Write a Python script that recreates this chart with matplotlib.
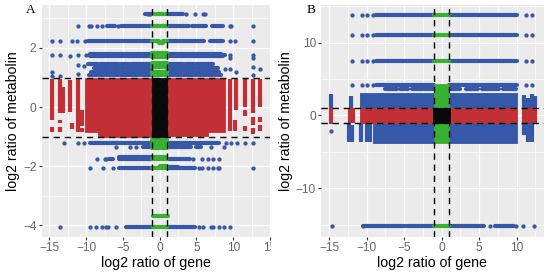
import matplotlib
matplotlib.use("Agg")
import matplotlib.pyplot as plt
from matplotlib.transforms import Bbox

plt.rcParams['font.family'] = ['Liberation Sans', 'DejaVu Sans']

BLUE = '#3558A8'
RED = '#C22F36'
GREEN = '#37B034'
BLACK = '#0A0A0A'

# panel A: (y, x start, x end) for the dense runs of dots
a_blue_runs = [
    (3.15, -2.0, -1), (3.15, 1, 3.1),
    (2.75, -7.2, -6.1), (2.75, -5.2, -1), (2.75, 1, 4), (2.75, 4.4, 6.3), (2.75, 7.1, 8.6),
    (2.22, -9.8, -1), (2.22, 1, 6), (2.22, 6.8, 8.6),
    (1.76, -9.5, -1), (1.8, -9.5, -1), (1.72, -9.5, -1), (1.76, 1, 8.9), (1.72, 1, 8.6), (1.8, 1, 8.4),
    (1.45, -9.7, -8.4), (1.45, -8.1, -5.6), (1.45, -5.3, -4.2), (1.45, -3.9, -1), (1.45, 1, 3.2),
    (1.45, 3.5, 4.6), (1.45, 5.0, 7.2),
    (1.32, -9.0, -6.6), (1.32, -6.3, -4.9), (1.32, -4.6, -1), (1.32, 1, 4.8), (1.32, 5.1, 7.9),
    (1.2, -9.3, -7.0), (1.2, -6.8, -1), (1.2, 1, 6.0), (1.2, 6.3, 8.1),
    (1.08, -9.6, -1), (1.08, 1, 8.3),
    (-1.23, -9.5, -1), (-1.23, 1, 8.1), (-1.36, 1, 4.3), (-1.36, 5, 5.6), (-1.36, -2.3, -1),
    (-1.7, -5.5, -1), (-1.76, -6.9, -6.3), (-1.76, -5.5, -1), (-1.76, 1, 4.1),
    (-2.07, -5.6, -1), (-2.04, 1, 2.5), (-2.07, 1, 4.8),
    (-4.04, -4.6, -1), (-4.04, 1, 4.8),
]
a_blue_x = [-1.36, -1.6, 3.6, 4.8, 5.9, 6.2,
            -11.1, -9.6, -9.3, -8.5, -7.8, -5.7, 9.5, 9.7, 12.75,
            -14.7, -13.6, -11.9, -11.2, -10.1, 9.6, 10.3, 12.75,
            -14.7, -13.6, -12.2, -11.1, -10, 9.6, 9.6, 12.75, 12.75,
            -11.1, -10.3, -14.7, -11.1, 8.9, 9.6, 10.4, 12.75, 13.7, 12.75, -14.7, -13.6,
            -13, -11.1, -10.3, 9, 9.7, 10.5, 11.6, 12.75, -5.9, -4.1, -3.2, 7, 8.8,
            -8.5, -7.5, -7.3, 4.5, 5.8, 6.6, 7.2, 8,
            -9.5, -7.7, -6.4, 5.3, 5.8, 6.6, 7.2, 7.9, 8.1, 12.75,
            -13.57, -9.5, -8.6, -7.9, -7.3, -7.1, -6, 5.4, 5.9, 7, 7.3, 8.1, 8.8, 9.6]
a_blue_y = [3.15, 3.15, 3.15, 3.15, 3.15, 3.15,
            2.75, 2.75, 2.75, 2.75, 2.75, 2.75, 2.75, 2.75, 2.75,
            2.22, 2.22, 2.22, 2.22, 2.22, 2.22, 2.22, 2.22,
            1.76, 1.76, 1.72, 1.76, 1.76, 1.76, 1.65, 1.76, 1.65,
            1.42, 1.4, 1.19, 1.12, 1.3, 1.3, 1.2, 1.35, 1.28, 1.1, 1.05, 1.05,
            -1.23, -1.23, -1.2, -1.2, -1.23, -1.2, -1.2, -1.23, -1.36, -1.36, -1.36, -1.36, -1.36,
            -1.76, -1.76, -1.76, -1.76, -1.76, -1.76, -1.76, -1.76,
            -2.07, -2.07, -2.07, -2.07, -2.07, -2.07, -2.07, -2.07, -2.07, -2.07,
            -4.04, -4.04, -4.04, -4.04, -4.04, -4.04, -4.04, -4.04, -4.04, -4.04, -4.04, -4.04, -4.04, -4.04]
a_green_runs = [(3.15, -0.7, 0.7), (2.75, -1, 1), (2.75, -0.9, 0.9), (2.22, -1, -0.1), (2.18, -0.1, 0.5),
                (2.22, 0.5, 1), (1.76, -1, 1), (1.68, -1, 1), (1.84, -1, 1),
                (1.5, -1, 1), (1.35, -1, 1), (1.2, -1, 1), (1.08, -1, 1),
                (-1.1, -1, 1), (-1.25, -1, 1), (-1.38, -1, 1),
                (-1.76, -1, 1), (-1.68, -0.8, 0.9), (-2.07, -1, 1), (-2.0, 0, 1),
                (-3.68, -0.9, 1.1), (-4.04, -0.9, 1)]
# (x, y start, y end) for the stray red columns either side of the block
a_red_cols = [(-14.7, -0.44, 0.95), (-14.7, -0.83, -0.67), (-13.6, -0.2, 0.95), (-13.6, -0.55, -0.42),
              (-13.6, -0.83, -0.67), (-13.1, -0.2, 0.69), (-12.2, -0.15, 0.9), (-11.9, -0.75, -0.55),
              (-11.1, -0.85, 0.95), (-10.6, -0.65, -0.1), (-10.6, -0.85, -0.72),
              (9.5, -0.8, 0.95), (10.4, -0.1, 0.95), (10.3, -0.8, -0.45), (11.6, 0, 0.95), (11.6, -0.3, -0.1),
              (11.6, -0.8, -0.65), (12.75, -0.2, 0.95), (12.75, -0.6, -0.35), (12.75, -0.9, -0.7),
              (13.7, 0, 0.95), (13.7, -0.5, -0.35), (13.7, -0.8, -0.6)]
a_red_blocks = [(-10.1, -1, -0.85, 1), (-8.4, -1, -1, -0.85),
                (1, 8.9, -0.85, 1), (1, 6.6, -0.97, -0.85)]
a_black_blocks = [(-1, 1, -1, 1)]

# panel B
b_blue_runs = [(13.8, -8.7, -1), (13.8, 1, 10), (11.0, -8.7, -1), (11.0, 1, 10),
               (7.4, -8.7, -1), (7.4, 1, 10), (4.1, -8.7, -1), (4.1, 1, 10),
               (3.55, -7.6, -6.0), (3.55, -5.5, -4.5), (3.55, -3.9, -1), (3.55, 1, 2.5), (3.55, 3.3, 4.8),
               (3.55, 5.4, 7.6), (3.55, 8.2, 9.9), (-15.2, -10.5, -4.9), (-15.2, -4.6, -1),
               (-15.2, 1, 5.6), (-15.2, 7.1, 9.6)]
b_blue_x = [-11.9, -10.6, -9.9, -9.1, 11.2, 12.05] * 4 + [-14.6, -10.5, 6.4, 9.9, 10.9, 12.3]
b_blue_y = [13.8] * 6 + [11.0] * 6 + [7.4] * 6 + [4.1] * 6 + [-15.2] * 6
b_blue_cols = [(-14.7, 1, 3), (-14.7, -1.2, -1), (-12.1, 1, 2.7), (-12.3, -3.7, -1), (-11.9, -3.7, -1.3),
               (-10.7, -3.7, -1), (-10, -3.7, -1), (-9.5, -3.7, -1),
               (11.0, 1, 2.8), (11.5, 1, 2.4), (11.5, -3.7, -1), (11.0, -2.7, -1), (12.1, 1, 3), (12.4, 1, 2.6),
               (12.1, -3.7, -1)]
b_blue_points_x = [-14.7]
b_blue_points_y = [-2.2]
b_blue_blocks = [(-10.9, -1, 1, 3.1), (-9.2, -1, -3.8, -1), (1, 10, 1, 3.1), (1, 10, -3.8, -1)]
b_green_runs = [(13.8, -1, 1), (11.0, -1, 1), (7.4, -1, 1), (-15.2, -1, 1)]
b_green_blocks = [(-1, 1, 1, 4.3), (-1, 1, -3.8, -1)]
b_red_cols = [(-14.7, -1, 1), (-12.2, -1, 1), (-11.8, -1, 1), (11.0, -1, 1), (11.5, -1, 1),
              (12.1, -1, 1), (12.4, -1, 1)]
b_red_blocks = [(-10.9, -1, -1, 1), (1, 10, -1, 1)]
b_black_blocks = [(-1.1, 1.1, -1, 1)]

a_xticks = [-15, -10, -5, 0, 5, 10, 15]
a_yticks = [-4, -2, 0, 2]
a_xminor = [-12.5, -7.5, -2.5, 2.5, 7.5, 12.5]
a_yminor = [-3, -1, 1, 3]
b_xticks = [-15, -10, -5, 0, 5, 10]
b_yticks = [-10, 0, 10]
b_xminor = [-12.5, -7.5, -2.5, 2.5, 7.5, 12.5]
b_yminor = [-15, -5, 5, 15]

DOT = 3.0
DOT_S = 9.5


def draw_runs(ax, runs, color):
    for y, x0, x1 in runs:
        ax.plot([x0, x1], [y, y], color=color, lw=DOT, solid_capstyle='round', zorder=3)


def draw_cols(ax, cols, color):
    for x, y0, y1 in cols:
        ax.plot([x, x], [y0, y1], color=color, lw=DOT, solid_capstyle='butt', zorder=3)


def draw_blocks(ax, blocks, color, z=3):
    for x0, x1, y0, y1 in blocks:
        ax.fill_between([x0, x1], y0, y1, color=color, lw=0.6, zorder=z)


def style_axes(ax, xlim, ylim, xticks, yticks, xminor, yminor):
    ax.set_facecolor('#EBEBEB')
    ax.set_xlim(*xlim)
    ax.set_ylim(*ylim)
    ax.set_xticks(xticks)
    ax.set_yticks(yticks)
    ax.set_xticks(xminor, minor=True)
    ax.set_yticks(yminor, minor=True)
    ax.grid(True, which='major', color='white', lw=0.9, zorder=1)
    ax.grid(True, which='minor', color='white', lw=0.5, zorder=1)
    ax.set_axisbelow(True)
    ax.tick_params(which='minor', length=0)
    ax.tick_params(which='major', length=2.2, width=0.8, color='#333333',
                   labelcolor='#666666', labelsize=8.6, pad=1.5)
    for s in ax.spines.values():
        s.set_visible(False)
    ax.set_xlabel('log2 ratio of gene', fontsize=10.2, labelpad=1.5)
    ax.set_ylabel('log2 ratio of metabolin', fontsize=10.2, labelpad=2)
    for v in (-1, 1):
        ax.axvline(v, color='black', lw=1.0, dashes=(4.5, 3.5), zorder=5)
        ax.axhline(v, color='black', lw=1.0, dashes=(4.5, 3.5), zorder=5)


fig = plt.figure(figsize=(5.5, 2.76), dpi=100)
W, H = 550.0, 276.0
ax1 = fig.add_axes([41.7 / W, 1 - 237 / H, 228.3 / W, 232 / H])
ax2 = fig.add_axes([321 / W, 1 - 237 / H, 222.7 / W, 232 / H])

# A
draw_runs(ax1, a_blue_runs, BLUE)
ax1.scatter(a_blue_x, a_blue_y, s=DOT_S, color=BLUE, lw=0, zorder=3)
draw_blocks(ax1, a_red_blocks, RED)
draw_cols(ax1, a_red_cols, RED)
draw_runs(ax1, a_green_runs, GREEN)
draw_blocks(ax1, a_black_blocks, BLACK, 4)
style_axes(ax1, (-16.05, 14.95), (-4.39, 3.45), a_xticks, a_yticks, a_xminor, a_yminor)

# B
draw_runs(ax2, b_blue_runs, BLUE)
ax2.scatter(b_blue_x, b_blue_y, s=DOT_S, color=BLUE, lw=0, zorder=3)
ax2.scatter(b_blue_points_x, b_blue_points_y, s=DOT_S, color=BLUE, lw=0, zorder=3)
draw_blocks(ax2, b_blue_blocks, BLUE)
draw_cols(ax2, b_blue_cols, BLUE)
draw_blocks(ax2, b_red_blocks, RED)
draw_cols(ax2, b_red_cols, RED)
draw_runs(ax2, b_green_runs, GREEN)
draw_blocks(ax2, b_green_blocks, GREEN)
draw_blocks(ax2, b_black_blocks, BLACK, 4)
style_axes(ax2, (-16.1, 13.6), (-16.7, 15.15), b_xticks, b_yticks, b_xminor, b_yminor)

fig.text(31 / W, 1 - 10 / H, 'A', family='Liberation Serif', fontsize=9.5, ha='center', va='center')
fig.text(310.7 / W, 1 - 10 / H, 'B', family='Liberation Serif', fontsize=9.5, ha='center', va='center')

# the "15" label of panel A is cut off at the panel edge in the original
for lab in ax1.get_xticklabels():
    if lab.get_text().endswith('15') and not lab.get_text().startswith('\u2212'):
        lab.set_clip_box(Bbox([[0, 0], [270.5, 276]]))
        lab.set_clip_on(True)

fig.savefig('out.png', dpi=100)
